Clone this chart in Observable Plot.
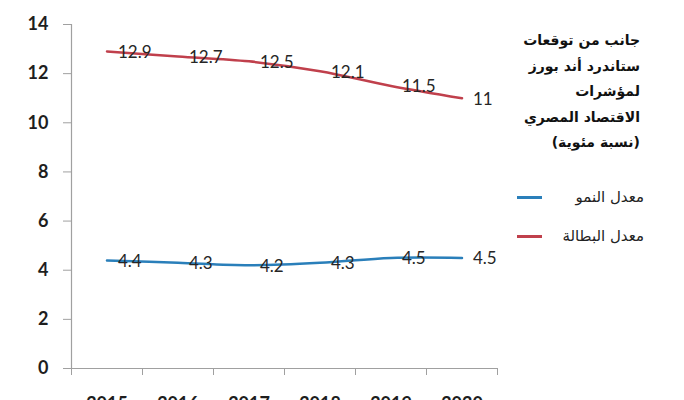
<!DOCTYPE html>
<html>
<head>
<meta charset="utf-8">
<script src="https://cdn.jsdelivr.net/npm/d3@7"></script>
<script src="https://cdn.jsdelivr.net/npm/@observablehq/plot@0.6"></script>
<style>
  body { margin: 0; background: #fff; }
  #wrap { position: relative; width: 684px; height: 400px; overflow: hidden; background: #fff; }
  #title { position: absolute; right: 44px; top: 28px; direction: rtl; text-align: right;
    font-family: "DejaVu Sans", sans-serif; font-weight: bold; font-size: 14px; line-height: 25.5px; color: #111; }
  .legtxt { position: absolute; right: 40px; direction: rtl; font-family: "DejaVu Sans", sans-serif;
    font-size: 15px; color: #222; line-height: 20px; }
  .legsw { position: absolute; left: 517px; width: 25px; height: 2.5px; }
</style>
</head>
<body>
<div id="wrap">
  <div id="chart"></div>
  <div id="title"></div>
  <div id="legend"></div>
</div>
<script>
const years = [2015, 2016, 2017, 2018, 2019, 2020];
const growth = [4.4, 4.3, 4.2, 4.3, 4.5, 4.5];
const unemployment = [12.9, 12.7, 12.5, 12.1, 11.5, 11];
const yTicks = [0, 2, 4, 6, 8, 10, 12, 14];
const titleLines = ["جانب من توقعات", "ستاندرد أند بورز", "لمؤشرات", "الاقتصاد المصري", "(نسبة مئوية)"];
const seriesNames = ["معدل النمو", "معدل البطالة"];
const seriesColors = ["#2a7fba", "#c0404c"];

const growthData = years.map((y, i) => ({year: y, value: growth[i]}));
const unempData = years.map((y, i) => ({year: y, value: unemployment[i]}));
const boundaries = [years[0] - 0.5, ...years.map(y => y + 0.5)];

const axisColor = "#a0a0a0";
const textColor = "#262626";

const chart = Plot.plot({
  width: 684,
  height: 400,
  marginLeft: 71,
  marginRight: 187,
  marginTop: 24,
  marginBottom: 32,
  style: {fontFamily: "Lato, sans-serif", fontSize: "17px", color: textColor, background: "#fff"},
  x: {domain: [boundaries[0], boundaries[boundaries.length - 1]]},
  y: {domain: [0, 14]},
  marks: [
    Plot.ruleX([boundaries[0]], {stroke: axisColor, strokeWidth: 1.2}),
    Plot.ruleY([0], {stroke: axisColor, strokeWidth: 1.2}),
    Plot.axisY({ticks: yTicks, tickSize: 8, tickPadding: 15, label: null, stroke: axisColor, fill: "#1e1e1e", fontSize: 18, fontWeight: "bold"}),
    Plot.axisX({ticks: boundaries, tickSize: 7, tickFormat: () => "", label: null, stroke: axisColor}),
    Plot.axisX({ticks: years, tickSize: 0, tickPadding: 29, tickFormat: d => String(d), label: null, fill: "#1e1e1e", fontSize: 18, fontWeight: "bold"}),
    Plot.line(unempData, {x: "year", y: "value", stroke: seriesColors[1], strokeWidth: 2.5, curve: "catmull-rom"}),
    Plot.line(growthData, {x: "year", y: "value", stroke: seriesColors[0], strokeWidth: 2.5, curve: "catmull-rom"}),
    Plot.text(unempData, {x: "year", y: "value", text: d => String(d.value), textAnchor: "start", dx: 11, dy: 1, fill: textColor, fontSize: 17}),
    Plot.text(growthData, {x: "year", y: "value", text: d => String(d.value), textAnchor: "start", dx: 11, dy: 1, fill: textColor, fontSize: 17})
  ]
});
document.getElementById("chart").appendChild(chart);

document.getElementById("title").innerHTML = titleLines.join("<br>");
const legendCenters = [197, 236];
const leg = document.getElementById("legend");
seriesNames.forEach((name, i) => {
  const t = document.createElement("div");
  t.className = "legtxt";
  t.style.top = (legendCenters[i] - 10) + "px";
  t.textContent = name;
  leg.appendChild(t);
  const s = document.createElement("div");
  s.className = "legsw";
  s.style.top = (legendCenters[i] - 1) + "px";
  s.style.background = seriesColors[i];
  leg.appendChild(s);
});
</script>
</body>
</html>
